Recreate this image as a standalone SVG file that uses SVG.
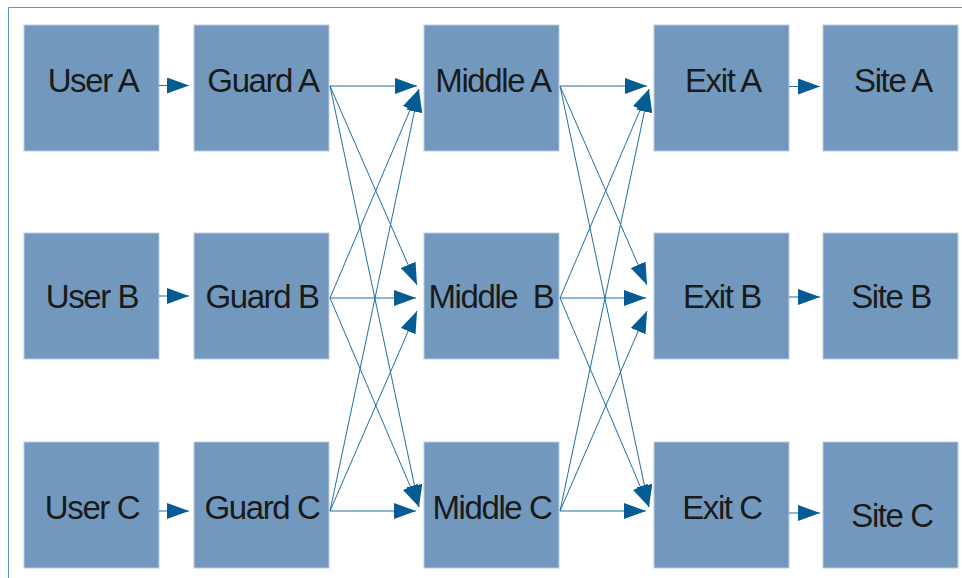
<svg xmlns="http://www.w3.org/2000/svg" width="962" height="578" viewBox="0 0 962 578">
  <style>
    .box { fill: #7299bd; stroke: #b8cde1; stroke-width: 1; }
    .lbl { font-family: "Liberation Sans", Arial, sans-serif; font-size: 33px; letter-spacing: -1.4px; fill: #1a1a1a; text-anchor: middle; white-space: pre; }
    .link { stroke: #1f6fa3; stroke-width: 1; fill: none; marker-end: url(#head); }
    .frame { stroke: #5b93c2; stroke-width: 1; fill: none; }
  </style>
  <defs>
    <marker id="head" markerUnits="userSpaceOnUse" markerWidth="22" markerHeight="16" refX="22" refY="8" orient="auto">
      <path d="M0,0 L22,8 L0,16 z" fill="#045c92"/>
    </marker>
  </defs>

  <!-- outer frame -->
  <path class="frame" d="M8.5,578 V7.5 H962"/>

  <!-- row A -->
  <g id="user-a"><rect class="box" x="24" y="25" width="135" height="126"/><text class="lbl" x="93" y="92">User A</text></g>
  <g id="guard-a"><rect class="box" x="194" y="25" width="135" height="126"/><text class="lbl" x="263" y="92">Guard A</text></g>
  <g id="middle-a"><rect class="box" x="424" y="25" width="135" height="126"/><text class="lbl" x="493" y="92">Middle A</text></g>
  <g id="exit-a"><rect class="box" x="654" y="25" width="135" height="126"/><text class="lbl" x="723" y="92">Exit A</text></g>
  <g id="site-a"><rect class="box" x="823" y="25" width="135" height="126"/><text class="lbl" x="893" y="92">Site A</text></g>

  <!-- row B -->
  <g id="user-b"><rect class="box" x="24" y="233" width="135" height="126"/><text class="lbl" x="92" y="307.5">User B</text></g>
  <g id="guard-b"><rect class="box" x="194" y="233" width="135" height="126"/><text class="lbl" x="262" y="307.5">Guard B</text></g>
  <g id="middle-b"><rect class="box" x="424" y="233" width="135" height="126"/><text class="lbl" x="491" y="307.5" xml:space="preserve">Middle  B</text></g>
  <g id="exit-b"><rect class="box" x="654" y="233" width="135" height="126"/><text class="lbl" x="722" y="307.5">Exit B</text></g>
  <g id="site-b"><rect class="box" x="823" y="233" width="135" height="126"/><text class="lbl" x="891" y="307.5">Site B</text></g>

  <!-- row C -->
  <g id="user-c"><rect class="box" x="24" y="442" width="135" height="126"/><text class="lbl" x="92" y="519">User C</text></g>
  <g id="guard-c"><rect class="box" x="194" y="442" width="135" height="126"/><text class="lbl" x="262" y="519">Guard C</text></g>
  <g id="middle-c"><rect class="box" x="424" y="442" width="135" height="126"/><text class="lbl" x="492" y="519">Middle C</text></g>
  <g id="exit-c"><rect class="box" x="654" y="442" width="135" height="126"/><text class="lbl" x="722" y="519">Exit C</text></g>
  <g id="site-c"><rect class="box" x="823" y="442" width="135" height="126"/><text class="lbl" x="892" y="527">Site C</text></g>

  <!-- connectors -->
  <g id="connectors">
    <!-- user to guard -->
    <line class="link" x1="159" y1="85.5" x2="189" y2="85.5"/>
    <line class="link" x1="159" y1="296" x2="189" y2="296"/>
    <line class="link" x1="159" y1="511" x2="189" y2="511"/>

    <!-- guard to middle -->
    <line class="link" x1="330" y1="86" x2="417" y2="86"/>
    <line class="link" x1="330" y1="86" x2="417" y2="285"/>
    <line class="link" x1="330" y1="86" x2="419" y2="507"/>
    <line class="link" x1="330" y1="298" x2="419" y2="89"/>
    <line class="link" x1="330" y1="298" x2="416" y2="298"/>
    <line class="link" x1="330" y1="298" x2="419" y2="507"/>
    <line class="link" x1="330" y1="511" x2="419" y2="90"/>
    <line class="link" x1="330" y1="511" x2="417" y2="311"/>
    <line class="link" x1="330" y1="511" x2="416" y2="511"/>

    <!-- middle to exit -->
    <line class="link" x1="560" y1="86" x2="647" y2="86"/>
    <line class="link" x1="560" y1="86" x2="647" y2="285"/>
    <line class="link" x1="560" y1="86" x2="649" y2="507"/>
    <line class="link" x1="560" y1="298" x2="649" y2="89"/>
    <line class="link" x1="560" y1="298" x2="646" y2="298"/>
    <line class="link" x1="560" y1="298" x2="649" y2="507"/>
    <line class="link" x1="560" y1="511" x2="649" y2="90"/>
    <line class="link" x1="560" y1="511" x2="647" y2="311"/>
    <line class="link" x1="560" y1="511" x2="646" y2="511"/>

    <!-- exit to site -->
    <line class="link" x1="789" y1="86.5" x2="820" y2="86.5"/>
    <line class="link" x1="789" y1="297" x2="820" y2="297"/>
    <line class="link" x1="789" y1="513" x2="820" y2="513"/>
  </g>
</svg>
